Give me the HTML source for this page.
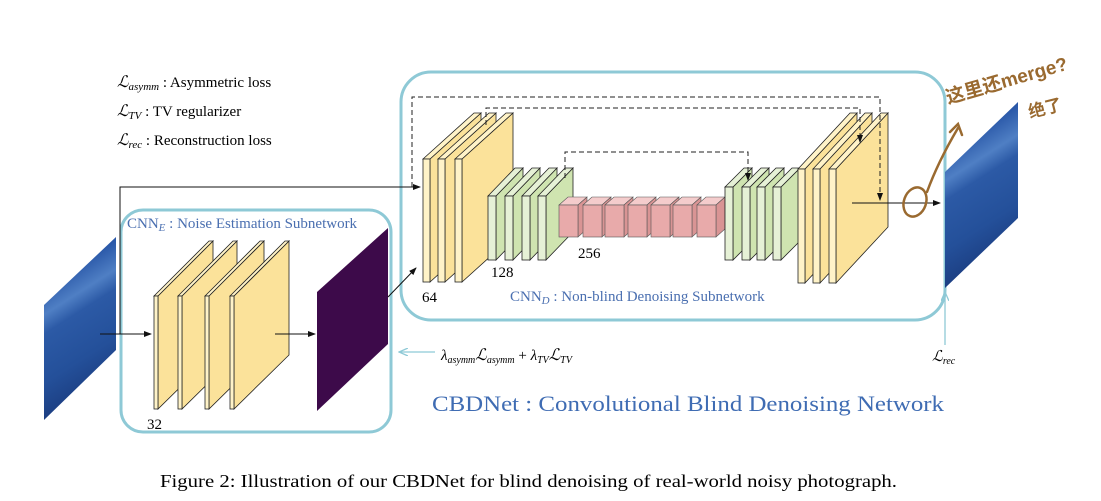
<!DOCTYPE html>
<html><head><meta charset="utf-8"><style>
html,body{margin:0;padding:0;background:#fff;}
svg{display:block;}
text{font-family:"Liberation Serif",serif;}
</style></head><body>
<svg width="1101" height="501" viewBox="0 0 1101 501" xmlns="http://www.w3.org/2000/svg">
<defs>
<marker id="ah" markerWidth="8" markerHeight="8" refX="7" refY="4" orient="auto" markerUnits="userSpaceOnUse"><path d="M0,1 L8,4 L0,7 z" fill="#111"/></marker>
<marker id="ahb" markerWidth="10" markerHeight="8" refX="9" refY="4" orient="auto" markerUnits="userSpaceOnUse"><path d="M0,0 L9,4 L0,8" fill="none" stroke="#8ec9d6" stroke-width="1.3"/></marker>
<linearGradient id="blue" x1="0" y1="0" x2="0.25" y2="1">
<stop offset="0" stop-color="#1a3a80"/><stop offset="0.25" stop-color="#2a58a8"/><stop offset="0.4" stop-color="#4f7fc4"/><stop offset="0.5" stop-color="#2c5aa6"/><stop offset="0.75" stop-color="#24509a"/><stop offset="1" stop-color="#1a3a7c"/>
</linearGradient>
</defs>

<text x="117" y="87" font-size="15"><tspan font-style="italic" font-size="16">ℒ</tspan><tspan font-style="italic" font-size="11" dy="3">asymm</tspan><tspan dy="-3"> : Asymmetric loss</tspan></text>
<text x="117" y="116" font-size="15"><tspan font-style="italic" font-size="16">ℒ</tspan><tspan font-style="italic" font-size="11" dy="3">TV</tspan><tspan dy="-3"> : TV regularizer</tspan></text>
<text x="117" y="145" font-size="15"><tspan font-style="italic" font-size="16">ℒ</tspan><tspan font-style="italic" font-size="11" dy="3">rec</tspan><tspan dy="-3"> : Reconstruction loss</tspan></text>

<rect x="401" y="72" width="544" height="248" rx="30" fill="none" stroke="#8ec9d6" stroke-width="3"/>
<rect x="121" y="210" width="270" height="222" rx="22" fill="none" stroke="#8ec9d6" stroke-width="3"/>

<polygon points="44,305 116,237 116,350 44,420" fill="url(#blue)"/>
<polygon points="945,172 1018,102 1018,218 945,288" fill="url(#blue)"/>

<!-- encoder planes (left to right) -->
<g stroke="#222" stroke-width="0.8">
<polygon points="158,296 213,241 213,355 158,409" fill="#fbe29a"/><polygon points="154,296 209,241 213,241 158,296" fill="#fff3c8"/><rect x="154" y="296" width="4" height="113" fill="#fff3c8"/>
<polygon points="182,296 237,241 237,355 182,409" fill="#fbe29a"/><polygon points="178,296 233,241 237,241 182,296" fill="#fff3c8"/><rect x="178" y="296" width="4" height="113" fill="#fff3c8"/>
<polygon points="209,296 264,241 264,355 209,409" fill="#fbe29a"/><polygon points="205,296 260,241 264,241 209,296" fill="#fff3c8"/><rect x="205" y="296" width="4" height="113" fill="#fff3c8"/>
<polygon points="234,296 289,241 289,355 234,409" fill="#fbe29a"/><polygon points="230,296 285,241 289,241 234,296" fill="#fff3c8"/><rect x="230" y="296" width="4" height="113" fill="#fff3c8"/>
</g>
<polygon points="317,292 388,228 388,344 317,411" fill="#3d0a4a"/>

<!-- decoder left yellow -->
<g stroke="#222" stroke-width="0.8">
<polygon points="430,159 481,113 481,236 430,282" fill="#fbe29a"/><polygon points="423,159 474,113 481,113 430,159" fill="#fff3c8"/><rect x="423" y="159" width="7" height="123" fill="#fff3c8"/>
<polygon points="445,159 496,113 496,236 445,282" fill="#fbe29a"/><polygon points="438,159 489,113 496,113 445,159" fill="#fff3c8"/><rect x="438" y="159" width="7" height="123" fill="#fff3c8"/>
<polygon points="462,159 513,113 513,236 462,282" fill="#fbe29a"/><polygon points="455,159 506,113 513,113 462,159" fill="#fff3c8"/><rect x="455" y="159" width="7" height="123" fill="#fff3c8"/>
</g>
<!-- left green -->
<g stroke="#222" stroke-width="0.8">
<polygon points="496,196 523,168 523,232 496,260" fill="#cfe4b0"/><polygon points="488,196 515,168 523,168 496,196" fill="#e6f1d6"/><rect x="488" y="196" width="8" height="64" fill="#e6f1d6"/>
<polygon points="513,196 540,168 540,232 513,260" fill="#cfe4b0"/><polygon points="505,196 532,168 540,168 513,196" fill="#e6f1d6"/><rect x="505" y="196" width="8" height="64" fill="#e6f1d6"/>
<polygon points="530,196 557,168 557,232 530,260" fill="#cfe4b0"/><polygon points="522,196 549,168 557,168 530,196" fill="#e6f1d6"/><rect x="522" y="196" width="8" height="64" fill="#e6f1d6"/>
<polygon points="546,196 573,168 573,232 546,260" fill="#cfe4b0"/><polygon points="538,196 565,168 573,168 546,196" fill="#e6f1d6"/><rect x="538" y="196" width="8" height="64" fill="#e6f1d6"/>
</g>
<!-- pink cubes -->
<g stroke="#555" stroke-width="0.6">
<g><polygon points="559,205 568,197 587,197 578,205" fill="#f4cccc"/><polygon points="578,205 587,197 587,229 578,237" fill="#d99494"/><rect x="559" y="205" width="19" height="32" fill="#e8aaaa"/></g>
<g><polygon points="583,205 592,197 611,197 602,205" fill="#f4cccc"/><polygon points="602,205 611,197 611,229 602,237" fill="#d99494"/><rect x="583" y="205" width="19" height="32" fill="#e8aaaa"/></g>
<g><polygon points="605,205 614,197 633,197 624,205" fill="#f4cccc"/><polygon points="624,205 633,197 633,229 624,237" fill="#d99494"/><rect x="605" y="205" width="19" height="32" fill="#e8aaaa"/></g>
<g><polygon points="628,205 637,197 656,197 647,205" fill="#f4cccc"/><polygon points="647,205 656,197 656,229 647,237" fill="#d99494"/><rect x="628" y="205" width="19" height="32" fill="#e8aaaa"/></g>
<g><polygon points="651,205 660,197 679,197 670,205" fill="#f4cccc"/><polygon points="670,205 679,197 679,229 670,237" fill="#d99494"/><rect x="651" y="205" width="19" height="32" fill="#e8aaaa"/></g>
<g><polygon points="673,205 682,197 701,197 692,205" fill="#f4cccc"/><polygon points="692,205 701,197 701,229 692,237" fill="#d99494"/><rect x="673" y="205" width="19" height="32" fill="#e8aaaa"/></g>
<g><polygon points="697,205 706,197 725,197 716,205" fill="#f4cccc"/><polygon points="716,205 725,197 725,229 716,237" fill="#d99494"/><rect x="697" y="205" width="19" height="32" fill="#e8aaaa"/></g>
</g>
<!-- right green -->
<g stroke="#222" stroke-width="0.8">
<polygon points="733,187 752,168 752,241 733,260" fill="#cfe4b0"/><polygon points="725,187 744,168 752,168 733,187" fill="#e6f1d6"/><rect x="725" y="187" width="8" height="73" fill="#e6f1d6"/>
<polygon points="750,187 769,168 769,241 750,260" fill="#cfe4b0"/><polygon points="742,187 761,168 769,168 750,187" fill="#e6f1d6"/><rect x="742" y="187" width="8" height="73" fill="#e6f1d6"/>
<polygon points="765,187 784,168 784,241 765,260" fill="#cfe4b0"/><polygon points="757,187 776,168 784,168 765,187" fill="#e6f1d6"/><rect x="757" y="187" width="8" height="73" fill="#e6f1d6"/>
<polygon points="781,187 800,168 800,241 781,260" fill="#cfe4b0"/><polygon points="773,187 792,168 800,168 781,187" fill="#e6f1d6"/><rect x="773" y="187" width="8" height="73" fill="#e6f1d6"/>
</g>
<!-- right yellow -->
<g stroke="#222" stroke-width="0.8">
<polygon points="805,169 857,113 857,227 805,283" fill="#fbe29a"/><polygon points="798,169 850,113 857,113 805,169" fill="#fff3c8"/><rect x="798" y="169" width="7" height="114" fill="#fff3c8"/>
<polygon points="820,169 872,113 872,227 820,283" fill="#fbe29a"/><polygon points="813,169 865,113 872,113 820,169" fill="#fff3c8"/><rect x="813" y="169" width="7" height="114" fill="#fff3c8"/>
<polygon points="836,169 888,113 888,227 836,283" fill="#fbe29a"/><polygon points="829,169 881,113 888,113 836,169" fill="#fff3c8"/><rect x="829" y="169" width="7" height="114" fill="#fff3c8"/>
</g>

<g fill="none" stroke="#222" stroke-width="1" stroke-dasharray="5,3">
<polyline points="412,187 412,97 880,97 880,200" marker-end="url(#ah)"/>
<polyline points="486,125 486,108 860,108 860,142" marker-end="url(#ah)"/>
<polyline points="565,178 565,152 748,152 748,180" marker-end="url(#ah)"/>
</g>

<g fill="none" stroke="#111" stroke-width="1">
<line x1="100" y1="334" x2="151" y2="334" marker-end="url(#ah)"/>
<polyline points="120,334 120,187 420,187" marker-end="url(#ah)"/>
<line x1="275" y1="334" x2="315" y2="334" marker-end="url(#ah)"/>
<line x1="388" y1="297" x2="416" y2="268" marker-end="url(#ah)"/>
<line x1="852" y1="203" x2="940" y2="203" marker-end="url(#ah)"/>
</g>
<line x1="435" y1="352" x2="399" y2="352" stroke="#8ec9d6" stroke-width="1.3" marker-end="url(#ahb)"/>
<line x1="945" y1="345" x2="945" y2="292" stroke="#8ec9d6" stroke-width="1.3" marker-end="url(#ahb)"/>

<text x="422" y="302" font-size="15">64</text>
<text x="491" y="277" font-size="15">128</text>
<text x="578" y="258" font-size="15">256</text>
<text x="147" y="429" font-size="15">32</text>
<text x="510" y="301" font-size="15" fill="#4a6fb0">CNN<tspan font-style="italic" font-size="11" dy="3">D</tspan><tspan dy="-3"> : Non-blind Denoising Subnetwork</tspan></text>
<text x="127" y="228" font-size="15" fill="#4a6fb0">CNN<tspan font-style="italic" font-size="11" dy="3">E</tspan><tspan dy="-3"> : Noise Estimation Subnetwork</tspan></text>
<text x="441" y="360" font-size="15" font-style="italic">λ<tspan font-size="10" dy="3">asymm</tspan><tspan font-size="16" dy="-3">ℒ</tspan><tspan font-size="10" dy="3">asymm</tspan><tspan font-style="normal" dy="-3"> + </tspan>λ<tspan font-size="10" dy="3">TV</tspan><tspan font-size="16" dy="-3">ℒ</tspan><tspan font-size="10" dy="3">TV</tspan></text>
<text x="932" y="361" font-size="15" font-style="italic">ℒ<tspan font-size="10" dy="3">rec</tspan></text>
<text x="432" y="411" font-size="22" fill="#3f6cb3" textLength="512" lengthAdjust="spacingAndGlyphs">CBDNet : Convolutional Blind Denoising Network</text>
<text x="160" y="487" font-size="18" textLength="737" lengthAdjust="spacingAndGlyphs">Figure 2: Illustration of our CBDNet for blind denoising of real-world noisy photograph.</text>

<g fill="none" stroke="#9a6a30" stroke-width="2.5" stroke-linecap="round">
<ellipse cx="915" cy="202" rx="11" ry="15" transform="rotate(20 915 202)"/>
<path d="M927,192 C935,170 945,150 958,128"/>
<path d="M950,132 L958,124 L962,135"/>
</g>
<text x="948" y="104" font-size="19" font-weight="bold" fill="#9a6a30" transform="rotate(-16 948 104)" style="font-family:'Liberation Sans','Noto Sans CJK SC',sans-serif">这里还merge?</text>
<text x="1030" y="118" font-size="17" font-weight="bold" fill="#9a6a30" transform="rotate(-14 1030 118)" style="font-family:'Noto Sans CJK SC',sans-serif">绝了</text>
</svg>
</body></html>
